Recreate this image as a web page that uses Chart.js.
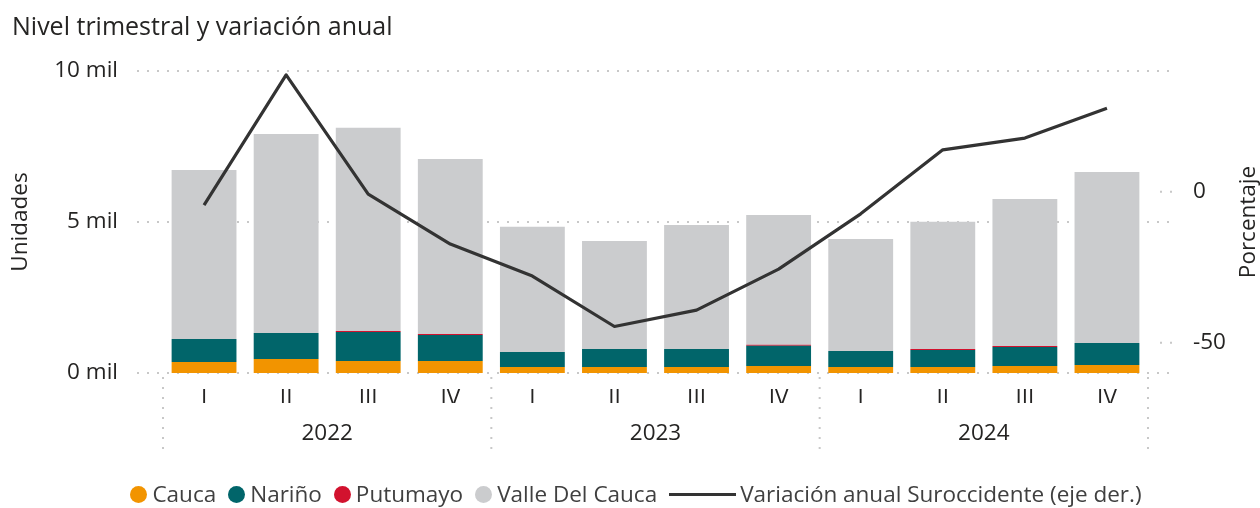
<!DOCTYPE html>
<html><head><meta charset="utf-8">
<script src="https://cdn.jsdelivr.net/npm/chart.js@4.4.0/dist/chart.umd.min.js"></script>
<style>
html,body{margin:0;padding:0;background:#fff;}
#wrap{position:relative;width:1260px;height:508px;overflow:hidden;font-family:"Open Sans",sans-serif;}
#title{position:absolute;left:12px;top:10px;font-size:25px;color:#252423;white-space:nowrap;line-height:30px;}
#c{position:absolute;left:0;top:0;}
#legend{position:absolute;left:6px;width:1260px;top:479px;display:flex;justify-content:center;align-items:center;font-size:22.5px;color:#404040;line-height:30px;white-space:nowrap;}
.item{display:flex;align-items:center;margin:0 6px;}
.dot{width:17px;height:17px;border-radius:50%;margin-right:5px;}
.ln{width:67px;height:3px;background:#333;margin-right:4px;}
</style></head>
<body>
<div id="wrap">
<canvas id="c" width="1260" height="508"></canvas>
<div id="title">Nivel trimestral y variación anual</div>
<div id="legend"></div>
</div>
<script>
const quarters = ["I","II","III","IV","I","II","III","IV","I","II","III","IV"];
const years = ["2022","2023","2024"];
const cauca    = [364, 464, 397, 397, 199, 199, 199, 232, 199, 199, 232, 265];
const narino   = [761, 861, 960, 861, 497, 596, 596, 670, 530, 563, 629, 728];
const putumayo = [0, 0, 30, 35, 0, 0, 0, 30, 0, 30, 35, 0];
const valle    = [5597, 6589, 6735, 5793, 4148, 3576, 4106, 4300, 3708, 4218, 4866, 5663];
const variacion = [-4.4, 38.7, -0.8, -17.3, -27.9, -44.6, -39.2, -25.6, -7.3, 13.9, 17.8, 27.7];
const leftTicks = [0, 5000, 10000];
const rightTicks = [-50, 0];

const FONT = "'Open Sans', sans-serif";
const FS = 22.5;
const TXT = '#252423';
const colors = {cauca:'#F29400', narino:'#01656A', putumayo:'#D2122E', valle:'#CBCCCE', line:'#333333'};

const customPlugin = {
  id: 'custom',
  beforeDatasetsDraw(chart) {
    const {ctx, scales:{x, y, y1}} = chart;
    ctx.save();
    ctx.strokeStyle = '#c8c8c8';
    ctx.lineWidth = 2;
    ctx.setLineDash([2, 8]);
    leftTicks.forEach(v => {
      const py = y.getPixelForValue(v);
      ctx.beginPath(); ctx.moveTo(x.left - 26, py); ctx.lineTo(x.right + 27, py); ctx.stroke();
    });
    rightTicks.forEach(v => {
      const py = y1.getPixelForValue(v);
      ctx.beginPath(); ctx.moveTo(x.right + 12, py); ctx.lineTo(x.right + 27, py); ctx.stroke();
    });
    const bounds = [x.left];
    for (let g = 1; g < years.length; g++) {
      bounds.push((x.getPixelForValue(g*4 - 1) + x.getPixelForValue(g*4)) / 2);
    }
    bounds.push(x.right);
    bounds.forEach(bx => {
      ctx.beginPath(); ctx.moveTo(bx, 377); ctx.lineTo(bx, 452); ctx.stroke();
    });
    ctx.restore();
  },
  afterDraw(chart) {
    const {ctx, scales:{x, y1}} = chart;
    ctx.save();
    ctx.fillStyle = TXT;
    ctx.font = FS + "px " + FONT;
    ctx.textAlign = 'center';
    ctx.textBaseline = 'middle';
    years.forEach((yr, g) => {
      const cx = (x.getPixelForValue(g*4) + x.getPixelForValue(g*4 + 3)) / 2;
      ctx.fillText(yr, cx, 434);
    });
    ctx.translate(1249, (y1.top + y1.bottom) / 2);
    ctx.rotate(-Math.PI / 2);
    ctx.fillText('Porcentaje', 0, 0);
    ctx.restore();
  }
};

new Chart(document.getElementById('c'), {
  data: {
    labels: quarters,
    datasets: [
      {type:'line', label:'Variación anual Suroccidente (eje der.)', data: variacion, yAxisID:'y1',
       borderColor: colors.line, borderWidth: 3.2, pointRadius: 0, tension: 0, order: 0, borderJoinStyle:'round'},
      {type:'bar', label:'Cauca', data: cauca, backgroundColor: colors.cauca, yAxisID:'y', order:1, stack:'s'},
      {type:'bar', label:'Nariño', data: narino, backgroundColor: colors.narino, yAxisID:'y', order:1, stack:'s'},
      {type:'bar', label:'Putumayo', data: putumayo, backgroundColor: colors.putumayo, yAxisID:'y', order:1, stack:'s'},
      {type:'bar', label:'Valle Del Cauca', data: valle, backgroundColor: colors.valle, yAxisID:'y', order:1, stack:'s'}
    ]
  },
  options: {
    responsive: false,
    animation: false,
    devicePixelRatio: 1,
    datasets: { bar: { categoryPercentage: 1, barPercentage: 0.79 } },
    layout: { padding: { top: 71, bottom: 105, left: 0, right: 0 } },
    plugins: { legend: { display: false }, tooltip: { enabled: false }, title: { display: false } },
    scales: {
      x: {
        stacked: true,
        grid: { display: false, drawTicks: false },
        border: { display: false },
        ticks: { font: { family: FONT, size: FS }, color: TXT, padding: 12, maxRotation: 0, autoSkip: false },
        afterFit(s) { s.height = 30; }
      },
      y: {
        position: 'left', stacked: true, min: 0, max: 10000,
        afterBuildTicks(s) { s.ticks = leftTicks.map(v => ({value: v})); },
        grid: { display: false, drawTicks: false },
        border: { display: false },
        ticks: { font: { family: FONT, size: FS }, color: TXT, padding: 45, callback: v => (v/1000) + ' mil' },
        title: { display: true, text: 'Unidades', font: { family: FONT, size: FS }, color: TXT, padding: { top: 7, bottom: 0 } },
        afterFit(s) { s.width = 163; }
      },
      y1: {
        position: 'right', min: -60, max: 40,
        afterBuildTicks(s) { s.ticks = rightTicks.map(v => ({value: v})); },
        grid: { display: false, drawTicks: false },
        border: { display: false },
        ticks: { font: { family: FONT, size: FS }, color: TXT, padding: 45 },
        afterFit(s) { s.width = 112; }
      }
    }
  },
  plugins: [customPlugin]
});

const legendItems = [
  {label:'Cauca', color: colors.cauca, kind:'dot'},
  {label:'Nariño', color: colors.narino, kind:'dot'},
  {label:'Putumayo', color: colors.putumayo, kind:'dot'},
  {label:'Valle Del Cauca', color: colors.valle, kind:'dot'},
  {label:'Variación anual Suroccidente (eje der.)', color: colors.line, kind:'ln'}
];
const lg = document.getElementById('legend');
legendItems.forEach(it => {
  const d = document.createElement('div'); d.className = 'item';
  const s = document.createElement('span'); s.className = it.kind; s.style.background = it.color;
  const t = document.createElement('span'); t.textContent = it.label;
  d.appendChild(s); d.appendChild(t); lg.appendChild(d);
});
</script>
</body></html>
